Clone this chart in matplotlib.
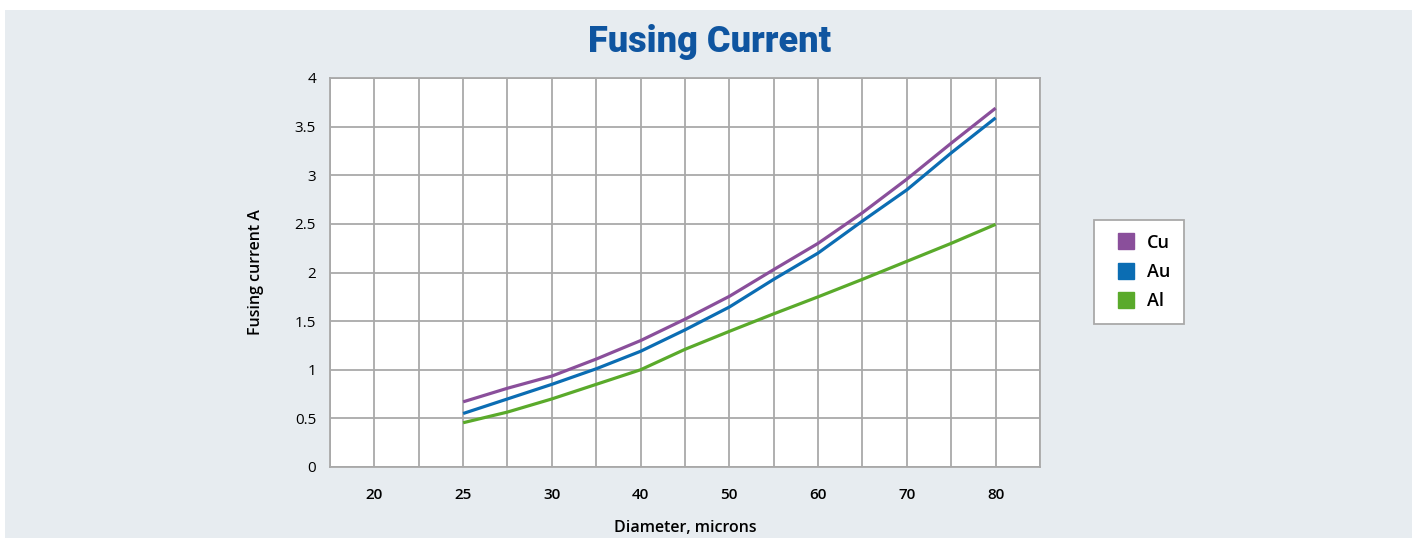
import numpy as np
import matplotlib
matplotlib.use("Agg")
import matplotlib.pyplot as plt
from matplotlib.lines import Line2D
from matplotlib.patches import Rectangle
from matplotlib.ticker import MultipleLocator, FixedLocator, FormatStrFormatter

# category labels on the x axis (diameter, microns)
diameters = ["20", "25", "30", "40", "50", "60", "70", "80"]

# curves are sampled at every category from "25" to "80" and halfway between them
cu = [0.67, 0.81, 0.935, 1.11, 1.30, 1.52, 1.755, 2.03, 2.30, 2.615, 2.96, 3.33, 3.69]
au = [0.55, 0.70, 0.85, 1.01, 1.19, 1.41, 1.645, 1.93, 2.20, 2.53, 2.85, 3.23, 3.59]
al = [0.455, 0.565, 0.70, 0.85, 1.00, 1.21, 1.395, 1.575, 1.75, 1.93, 2.115, 2.30, 2.495]

series = [("Cu", cu, "#8a4f9b"), ("Au", au, "#0b6db3"), ("Al", al, "#5aaa2b")]

BG = "#e7ecf0"
GRID = "#a9a9a9"
plt.rcParams["font.family"] = ["Open Sans", "DejaVu Sans"]

fig = plt.figure(figsize=(14.16, 5.38), dpi=100)
fig.patches.append(Rectangle((5 / 1416, 0), 1407 / 1416, 528 / 538,
                             transform=fig.transFigure, facecolor=BG,
                             edgecolor="none", zorder=-10))

ax = fig.add_axes([330 / 1416, 71 / 538, 710 / 1416, 389 / 538])
ax.set_facecolor("white")

start = diameters.index("25")
xs = np.arange(len(cu)) * 0.5 + start
for name, vals, col in series:
    ax.plot(xs, vals, color=col, lw=2.3, solid_capstyle="butt", zorder=3)

ax.set_xlim(-0.5, len(diameters) - 0.5)
ax.set_ylim(0, 4)
ax.xaxis.set_major_locator(FixedLocator(range(len(diameters))))
ax.set_xticklabels(diameters, fontsize=11, fontweight="semibold")
ax.xaxis.set_minor_locator(MultipleLocator(0.5))
ax.yaxis.set_major_locator(MultipleLocator(0.5))
ax.yaxis.set_major_formatter(FormatStrFormatter("%g"))
ax.tick_params(axis="y", labelsize=11)
ax.grid(True, which="both", color=GRID, lw=1.3, zorder=1)
ax.tick_params(which="both", length=0)
ax.tick_params(axis="x", pad=15)
ax.tick_params(axis="y", pad=10)
for s in ax.spines.values():
    s.set_color(GRID)
    s.set_linewidth(1.3)

ax.set_xlabel("Diameter, microns", fontsize=11.5, fontweight="semibold", labelpad=13)
ax.set_ylabel("Fusing current A", fontsize=11.5, fontweight="semibold", labelpad=22)

fig.text(710 / 1416, 1 - 42 / 538, "Fusing Current", ha="center", va="center",
         fontsize=26, fontweight="black", color="#0f55a0",
         family=["Roboto", "DejaVu Sans"])

handles = [Line2D([], [], ls="none", marker="s", markersize=11, color=c,
                  markeredgecolor=c) for _, _, c in series]
leg = fig.legend(handles, [n for n, _, _ in series], loc="center",
                 bbox_to_anchor=(1139 / 1416, 1 - 272 / 538), frameon=True,
                 fancybox=False, edgecolor=GRID, facecolor="white", framealpha=1,
                 fontsize=13, handletextpad=0.2, labelspacing=0.62,
                 borderpad=0.75, handlelength=2.0, borderaxespad=0)
leg.get_frame().set_linewidth(1.3)
for t in leg.get_texts():
    t.set_fontweight("semibold")

fig.savefig("out.png", dpi=100)
